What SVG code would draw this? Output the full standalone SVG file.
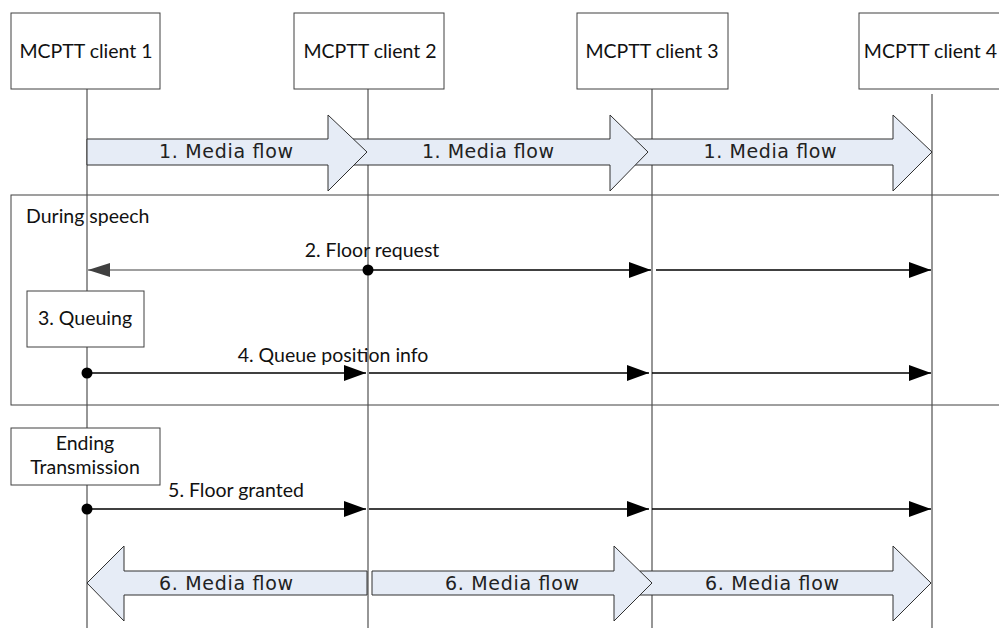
<svg xmlns="http://www.w3.org/2000/svg" width="999" height="628" viewBox="0 0 999 628">
<style>
.box{fill:#fff;stroke:#404040;stroke-width:1}
.life{stroke:#505050;stroke-width:1.2;fill:none}
.msg{stroke:#000;stroke-width:1.5;fill:none}
.big{fill:#E6ECF6;stroke:#303030;stroke-width:1}
.lbl{font-family:Lato,"Open Sans",sans-serif;font-size:19.5px;fill:#111}
.mf{font-family:"DejaVu Sans",sans-serif;font-size:19px;fill:#222}
</style>
<defs>
<marker id="ah" markerUnits="userSpaceOnUse" viewBox="0 0 22 16" refX="22" refY="8" markerWidth="22" markerHeight="16" orient="auto">
<path d="M0,0 L22,8 L0,16 Z" fill="#000"/>
</marker>
<marker id="ahg" markerUnits="userSpaceOnUse" viewBox="0 0 22 14" refX="22" refY="7" markerWidth="22" markerHeight="14" orient="auto">
<path d="M0,0 L22,7 L0,14 Z" fill="#404040"/>
</marker>
</defs>

<g id="frame">
<rect x="11" y="195" width="1000" height="210" fill="none" stroke="#404040" stroke-width="1"/>
<text class="lbl" x="26" y="223">During speech</text>
</g>

<g id="lifelines">
<line class="life" x1="87" y1="89" x2="87" y2="628"/>
<line class="life" x1="368" y1="89" x2="368" y2="628"/>
<line class="life" x1="652" y1="89" x2="652" y2="628"/>
<line class="life" x1="932" y1="94" x2="932" y2="628"/>
</g>

<g id="client1"><rect class="box" x="11" y="13" width="149" height="76"/><text class="lbl" x="86" y="58" text-anchor="middle">MCPTT client 1</text></g>
<g id="client2"><rect class="box" x="294" y="13" width="150" height="76"/><text class="lbl" x="370" y="58" text-anchor="middle">MCPTT client 2</text></g>
<g id="client3"><rect class="box" x="577" y="13" width="151" height="76"/><text class="lbl" x="652" y="58" text-anchor="middle">MCPTT client 3</text></g>
<g id="client4"><rect class="box" x="859" y="13" width="150" height="76"/><text class="lbl" x="997" y="58" text-anchor="end">MCPTT client 4</text></g>

<g id="queuing"><rect class="box" x="27" y="291" width="117" height="56"/><text class="lbl" x="85" y="325" text-anchor="middle">3. Queuing</text></g>
<g id="ending"><rect class="box" x="11" y="428" width="149" height="57"/><text class="lbl" x="85" y="450" text-anchor="middle">Ending</text><text class="lbl" x="85" y="474" text-anchor="middle">Transmission</text></g>

<g id="connectors">
<path class="big" d="M633,139 L893,139 L893,115 L932,152 L893,191 L893,165 L633,165 Z"/>
<path class="big" d="M353,139 L610,139 L610,115 L648,152 L610,191 L610,165 L353,165 Z"/>
<path class="big" d="M87,139 L328,139 L328,115 L367,152 L328,191 L328,165 L87,165 Z"/>
<text class="mf" x="226" y="158" text-anchor="middle" textLength="134" lengthAdjust="spacing">1. Media flow</text>
<text class="mf" x="488" y="158" text-anchor="middle" textLength="132" lengthAdjust="spacing">1. Media flow</text>
<text class="mf" x="770" y="158" text-anchor="middle" textLength="133" lengthAdjust="spacing">1. Media flow</text>

<line x1="368" y1="270" x2="88" y2="270" stroke="#404040" stroke-width="1.2" marker-end="url(#ahg)"/>
<line class="msg" x1="368" y1="270" x2="651" y2="270" marker-end="url(#ah)"/>
<line class="msg" x1="656" y1="270" x2="931" y2="270" marker-end="url(#ah)"/>
<circle cx="368" cy="270" r="5.5" fill="#000"/>
<text class="lbl" x="372" y="257" text-anchor="middle">2. Floor request</text>

<line class="msg" x1="87" y1="373" x2="366" y2="373" marker-end="url(#ah)"/>
<line class="msg" x1="369" y1="373" x2="649" y2="373" marker-end="url(#ah)"/>
<line class="msg" x1="652" y1="373" x2="931" y2="373" marker-end="url(#ah)"/>
<circle cx="87" cy="373" r="5.5" fill="#000"/>
<text class="lbl" x="333" y="362" text-anchor="middle">4. Queue position info</text>

<line class="msg" x1="87" y1="509" x2="366" y2="509" marker-end="url(#ah)"/>
<line class="msg" x1="369" y1="509" x2="649" y2="509" marker-end="url(#ah)"/>
<line class="msg" x1="652" y1="509" x2="931" y2="509" marker-end="url(#ah)"/>
<circle cx="87" cy="509" r="5.5" fill="#000"/>
<text class="lbl" x="236" y="497" text-anchor="middle">5. Floor granted</text>

<path class="big" d="M640,571 L893,571 L893,546 L931,583 L893,621 L893,595 L640,595 Z"/>
<path class="big" d="M372,571 L614,571 L614,546 L652,583 L614,621 L614,595 L372,595 Z"/>
<path class="big" d="M87,583 L124,546 L124,571 L367,571 L367,595 L124,595 L124,621 Z"/>
<text class="mf" x="226" y="590" text-anchor="middle" textLength="134" lengthAdjust="spacing">6. Media flow</text>
<text class="mf" x="512" y="590" text-anchor="middle" textLength="134" lengthAdjust="spacing">6. Media flow</text>
<text class="mf" x="772" y="590" text-anchor="middle" textLength="134" lengthAdjust="spacing">6. Media flow</text>
</g>
</svg>
